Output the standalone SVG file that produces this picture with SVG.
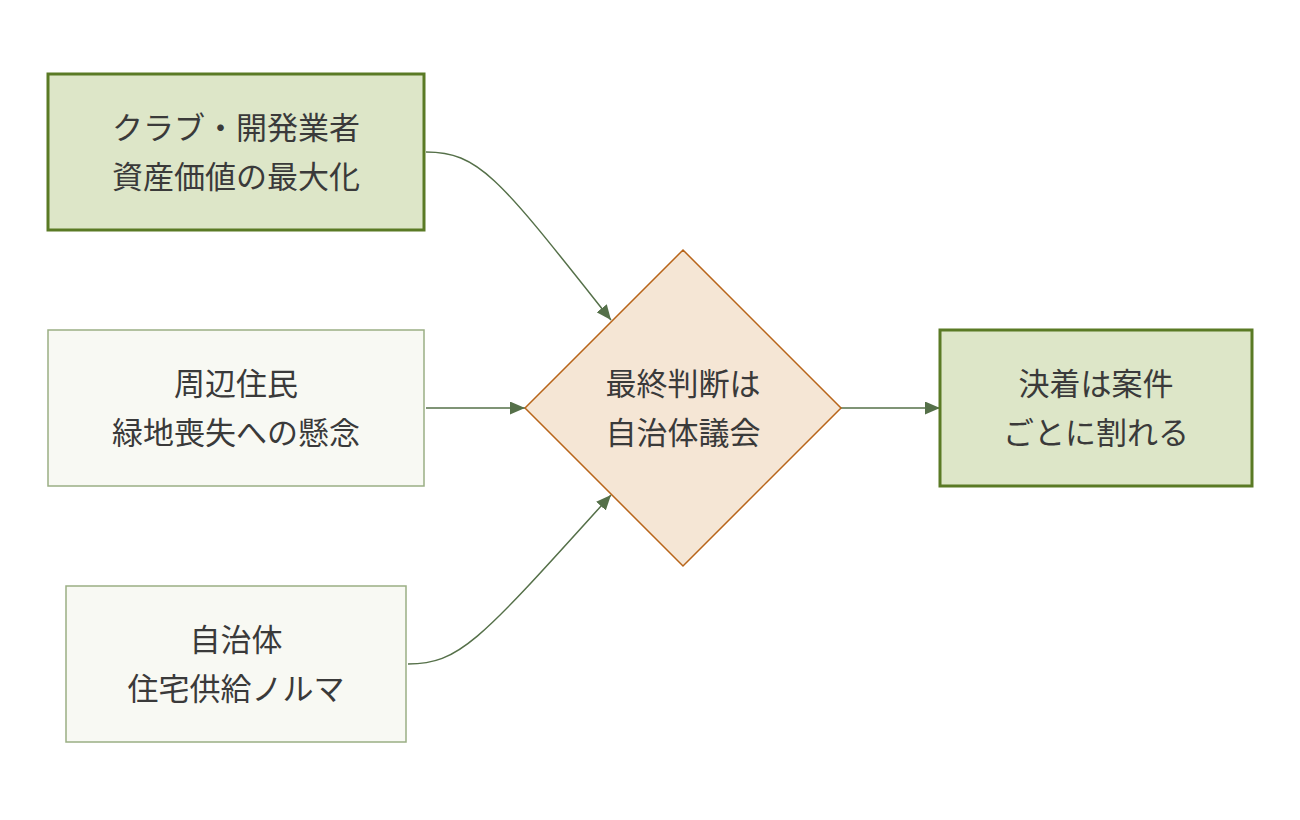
<svg xmlns="http://www.w3.org/2000/svg" width="1300" height="820" viewBox="0 0 1300 820">
<style>
.t{font-family:"Noto Sans CJK JP","Noto Sans CJK SC",sans-serif;font-size:31px;fill:#3a3a3a;text-anchor:middle}
.strong{fill:#dde6c8;stroke:#5a7a25;stroke-width:3}
.weak{fill:#f8f9f3;stroke:#9aae84;stroke-width:1.5}
.c{fill:none;stroke:#557049;stroke-width:1.5;marker-end:url(#a)}
</style>
<defs><marker id="a" viewBox="0 0 10 10" refX="10" refY="5" markerWidth="15" markerHeight="13" orient="auto" markerUnits="userSpaceOnUse" preserveAspectRatio="none"><path d="M0,0L10,5L0,10z" fill="#557049"/></marker></defs>
<rect width="1300" height="820" fill="#fff"/>
<g id="connectors">
<path class="c" d="M426,152C480,152 500,180 611,320"/>
<path class="c" d="M426,408H525"/>
<path class="c" d="M408,664C460,664 480,640 611,495"/>
<path class="c" d="M841,408H940"/>
</g>
<g id="club"><rect class="strong" x="48" y="74" width="376" height="156"/><text class="t" x="236" y="139">クラブ・開発業者</text><text class="t" x="236" y="188">資産価値の最大化</text></g>
<g id="residents"><rect class="weak" x="48" y="330" width="376" height="156"/><text class="t" x="236" y="395">周辺住民</text><text class="t" x="236" y="444">緑地喪失への懸念</text></g>
<g id="municipality"><rect class="weak" x="66" y="586" width="340" height="156"/><text class="t" x="236" y="651">自治体</text><text class="t" x="236" y="700">住宅供給ノルマ</text></g>
<g id="decision"><path d="M683,250L841,408L683,566L525,408z" fill="#f5e6d5" stroke="#b8651a" stroke-width="1.5"/><text class="t" x="683" y="395">最終判断は</text><text class="t" x="683" y="444">自治体議会</text></g>
<g id="result"><rect class="strong" x="940" y="330" width="312" height="156"/><text class="t" x="1096" y="395">決着は案件</text><text class="t" x="1096" y="444">ごとに割れる</text></g>
</svg>
